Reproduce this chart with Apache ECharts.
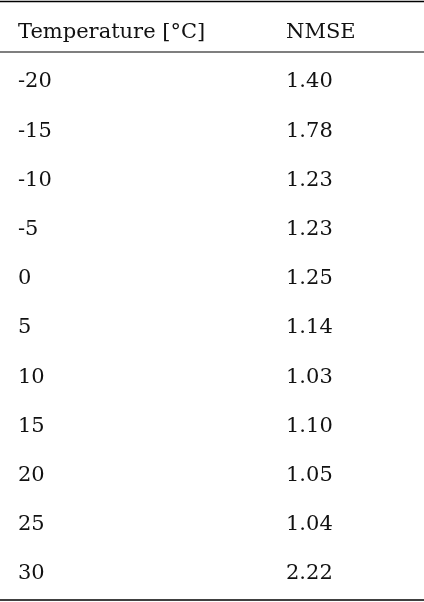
<!DOCTYPE html>
<html>
<head>
<meta charset="utf-8">
<script src="https://cdn.jsdelivr.net/npm/echarts@6/dist/echarts.min.js"></script>
<style>html,body{margin:0;padding:0;background:#fff}#chart{width:424px;height:602px}</style>
</head>
<body>
<div id="chart"></div>
<script>
const headers = ["Temperature [°C]", "NMSE"];
const temperatures = ["-20", "-15", "-10", "-5", "0", "5", "10", "15", "20", "25", "30"];
const nmse = ["1.40", "1.78", "1.23", "1.23", "1.25", "1.14", "1.03", "1.10", "1.05", "1.04", "2.22"];

const chart = echarts.init(document.getElementById('chart'));
const font = { fontFamily: 'DejaVu Serif', fontSize: 21, fill: '#111', textVerticalAlign: 'middle' };
const colX = [18, 286];
const rowY = i => 82 + i * 49.2;
const elements = [];
function rule(y, w) {
  elements.push({ type: 'line', shape: { x1: 0, y1: y, x2: 424, y2: y }, style: { stroke: '#000', lineWidth: w } });
}
rule(1.5, 1.5); rule(52, 1.2); rule(600, 1.5);
headers.forEach((h, c) => elements.push({ type: 'text', x: colX[c], y: 33, style: Object.assign({ text: h }, font) }));
temperatures.forEach((t, i) => {
  elements.push({ type: 'text', x: colX[0], y: rowY(i), style: Object.assign({ text: t }, font) });
  elements.push({ type: 'text', x: colX[1], y: rowY(i), style: Object.assign({ text: nmse[i] }, font) });
});
chart.setOption({ animation: false, graphic: { elements } });
</script>
</body>
</html>
